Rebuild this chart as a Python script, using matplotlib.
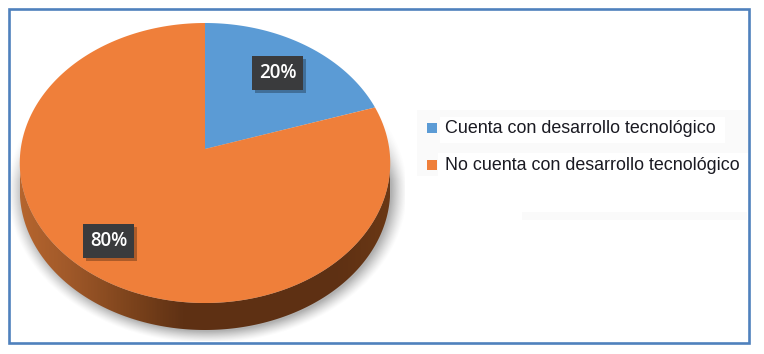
import numpy as np
import matplotlib
matplotlib.use("Agg")
import matplotlib.pyplot as plt
from matplotlib.colors import LinearSegmentedColormap
from matplotlib.patches import Polygon, Rectangle

categorias = ["Cuenta con desarrollo tecnológico", "No cuenta con desarrollo tecnológico"]
valores = [20, 80]
etiquetas = ["20%", "80%"]
colores = ["#5B9BD5", "#EF7F3A"]

W, H = 764, 354
fig = plt.figure(figsize=(W / 100, H / 100), dpi=100)
ax = fig.add_axes([0, 0, 1, 1])
ax.set_xlim(0, W)
ax.set_ylim(H, 0)
ax.axis("off")

# centro del pastel y perspectiva
cx, cy = 205, 149
sx, sy, r = 184.3, 138.6, 0.1
grosor = 27


def proyecta(ang):
    u = np.sin(ang)
    v = np.cos(ang)
    d = 1 + r * v
    return cx + sx * u / d, cy - sy * v / d


# sombra debajo del pastel
yy, xx = np.mgrid[0:341, 11:405]
dist = np.sqrt(((xx - 207) / 200) ** 2 + ((yy - 190) / 153) ** 2)
sombra = np.clip((1 - dist) / 0.08, 0, 1) ** 1.3 * 0.55
sombra = sombra * np.clip((yy - 110) / 70, 0, 1)
img = np.zeros(sombra.shape + (4,))
img[..., :3] = 0.45
img[..., 3] = sombra
ax.imshow(img, extent=(11, 405, 341, 0), aspect="auto", zorder=1, interpolation="bilinear")

# costado con degradado
t = np.linspace(np.pi / 2 + 0.1, 3 * np.pi / 2 - 0.1, 300)
px, py = proyecta(t)
lado = np.column_stack([np.r_[px, px[::-1]], np.r_[py, py[::-1] + grosor]])
cmap = LinearSegmentedColormap.from_list("lado", [
    (0.0, "#B5652E"), (0.12, "#A25A2A"), (0.30, "#7C431C"), (0.44, "#5F3114"),
    (0.85, "#5E3013"), (1.0, "#6A3815")])
grad = ax.imshow(np.linspace(0, 1, 370).reshape(1, -1), extent=(20, 390, 340, 150),
                 aspect="auto", cmap=cmap, zorder=2)
clip = Polygon(lado, closed=True, transform=ax.transData, fc="none", ec="none")
ax.add_patch(clip)
grad.set_clip_path(clip)
ax.set_xlim(0, W)
ax.set_ylim(H, 0)

# cara superior, desde las 12 en sentido horario
acum = 0
total = sum(valores)
for val, col in zip(valores, colores):
    a = np.linspace(acum, acum + val, 200) / total * 2 * np.pi
    qx, qy = proyecta(a)
    ax.add_patch(Polygon(np.column_stack([np.r_[cx, qx], np.r_[cy, qy]]), closed=True,
                         fc=col, ec="none", zorder=3))
    acum += val

# etiquetas de datos
cajas = [(252, 56), (83, 224)]
for (bx, by), txt in zip(cajas, etiquetas):
    ax.add_patch(Rectangle((bx + 3, by + 3), 51, 34, fc="#000000", alpha=0.28, ec="none", zorder=4))
    ax.add_patch(Rectangle((bx, by), 51, 34, fc="#3A3B3D", ec="none", zorder=5))
    ax.text(bx + 25.5, by + 17.5, txt, color="white", fontsize=13.5, family="Open Sans",
            fontweight="semibold", ha="center", va="center", zorder=6)

# fondo de la leyenda
ax.add_patch(Rectangle((417, 110), 331, 66, fc="#FAFAFA", ec="none", zorder=1))
ax.add_patch(Rectangle((440, 117), 285, 26, fc="white", ec="none", zorder=1.5))
ax.add_patch(Rectangle((438, 153), 310, 30, fc="white", ec="none", zorder=1.5))
ax.add_patch(Rectangle((522, 212), 225, 8, fc="#FAFAFA", ec="none", zorder=1))

# leyenda
ley_y = [128, 165]
for y, nombre, col in zip(ley_y, categorias, colores):
    ax.add_patch(Rectangle((427, y - 5), 10, 10, fc=col, ec="none", zorder=3))
    ax.text(445, y + 0.5, nombre, fontsize=12.9, family="Liberation Sans", color="#1A1A22",
            ha="left", va="center", zorder=3)

# marco
ax.add_patch(Rectangle((8.5, 9), 740.5, 334, fc="none", ec="#4F81BD", lw=1.9, zorder=7))

fig.savefig("out.png", dpi=100)
